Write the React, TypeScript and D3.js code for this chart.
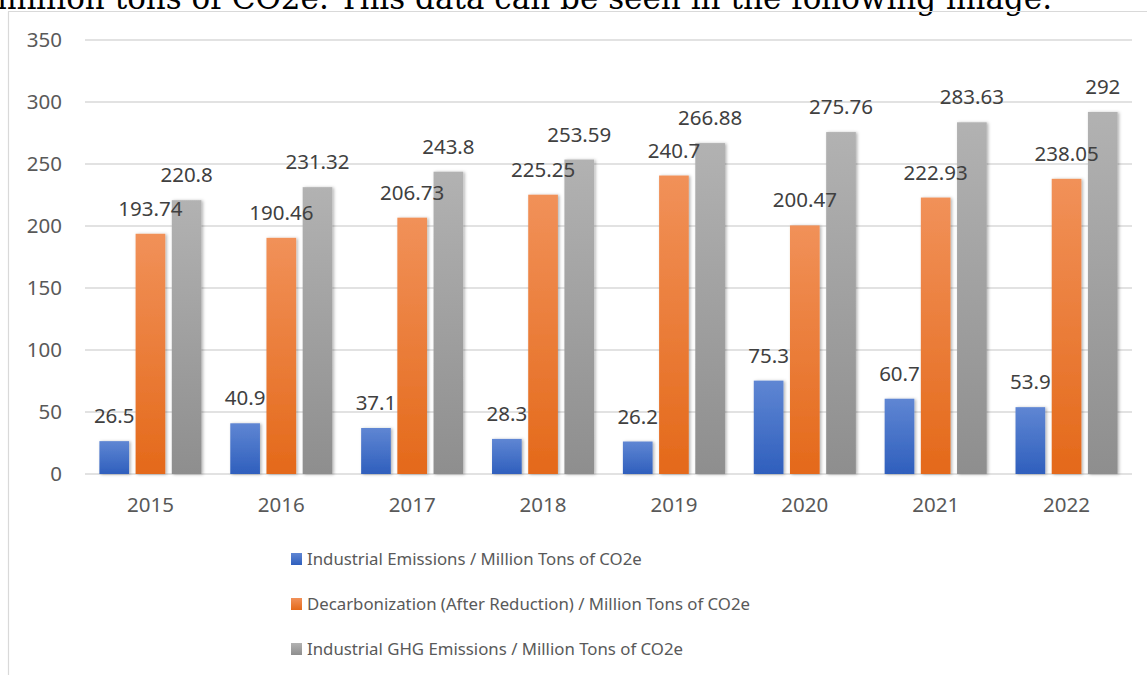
import React from "react";
import * as d3 from "d3";

// chart data
const years = ["2015", "2016", "2017", "2018", "2019", "2020", "2021", "2022"];
const industrialEmissions = [26.5, 40.9, 37.1, 28.3, 26.2, 75.3, 60.7, 53.9];
const decarbonization = [193.74, 190.46, 206.73, 225.25, 240.7, 200.47, 222.93, 238.05];
const ghgEmissions = [220.8, 231.32, 243.8, 253.59, 266.88, 275.76, 283.63, 292];
const yTicks = [0, 50, 100, 150, 200, 250, 300, 350];

const seriesNames = [
  "Industrial Emissions / Million Tons of CO2e",
  "Decarbonization (After Reduction) / Million Tons of CO2e",
  "Industrial GHG Emissions / Million Tons of CO2e",
];
const seriesValues = [industrialEmissions, decarbonization, ghgEmissions];
// gradient stops: [top, bottom]
const seriesColors = [
  ["#5f86d3", "#2f5fbd"],
  ["#f19159", "#e4691a"],
  ["#b2b2b2", "#8e8e8e"],
];

const W = 1147;
const H = 675;
const FONT = "'Noto Sans', 'Open Sans', sans-serif";

const App: React.FC = () => {
  const x0 = d3
    .scaleBand<string>()
    .domain(years)
    .range([85, 1132])
    .paddingInner(0.22)
    .paddingOuter(0.11);

  const x1 = d3
    .scaleBand<number>()
    .domain([0, 1, 2])
    .range([0, x0.bandwidth()])
    .paddingInner(0.18);

  const y = d3.scaleLinear().domain([0, 350]).range([474, 40]);

  return (
    <svg
      width={W}
      height={H}
      style={{ position: "absolute", left: 0, top: 0, background: "#fff" }}
    >
      <defs>
        {seriesColors.map((c, i) => (
          <linearGradient key={i} id={`grad${i}`} x1="0" y1="0" x2="0" y2="1">
            <stop offset="0%" stopColor={c[0]} />
            <stop offset="100%" stopColor={c[1]} />
          </linearGradient>
        ))}
        <filter id="shadow" x="-30%" y="-10%" width="160%" height="120%">
          <feDropShadow dx="1.5" dy="0.5" stdDeviation="1.6" floodColor="#000" floodOpacity="0.3" />
        </filter>
      </defs>

      {/* clipped text from the page above */}
      <text
        x={-3}
        y={9}
        fontFamily="'DejaVu Serif', 'Liberation Serif', serif"
        fontSize={31}
        textLength={1055}
        fill="#000"
      >
        million tons of CO2e. This data can be seen in the following image.
      </text>

      {/* chart frame */}
      <line x1={8.5} x2={8.5} y1={11.5} y2={H} stroke="#d9d9d9" strokeWidth={1.2} />
      <line x1={8} x2={W} y1={11.5} y2={11.5} stroke="#d9d9d9" strokeWidth={1.2} />

      {/* gridlines and y labels */}
      {yTicks.map((t) => (
        <g key={t}>
          <line
            x1={85}
            x2={1132}
            y1={y(t)}
            y2={y(t)}
            stroke="#d9d9d9"
            strokeWidth={1.5}
          />
          <text
            x={62}
            y={y(t)}
            dy="0.35em"
            textAnchor="end"
            fontFamily={FONT}
            fontSize={20.5}
            fill="#595959"
          >
            {t}
          </text>
        </g>
      ))}

      {/* bars */}
      {years.map((yr, j) => (
        <g key={yr} transform={`translate(${x0(yr)},0)`}>
          {seriesValues.map((vals, i) => (
            <rect
              key={i}
              x={x1(i)}
              y={y(vals[j])}
              width={x1.bandwidth()}
              height={y(0) - y(vals[j])}
              fill={`url(#grad${i})`}
              filter="url(#shadow)"
            />
          ))}
        </g>
      ))}

      {/* data labels */}
      {years.map((yr, j) => (
        <g key={yr} transform={`translate(${x0(yr)},0)`}>
          {seriesValues.map((vals, i) => (
            <text
              key={i}
              x={(x1(i) as number) + x1.bandwidth() / 2}
              y={y(vals[j]) - 18}
              textAnchor="middle"
              fontFamily={FONT}
              fontSize={20.5}
              fill="#404040"
            >
              {vals[j]}
            </text>
          ))}
        </g>
      ))}

      {/* x labels */}
      {years.map((yr) => (
        <text
          key={yr}
          x={(x0(yr) as number) + x0.bandwidth() / 2}
          y={512}
          textAnchor="middle"
          fontFamily={FONT}
          fontSize={20.5}
          fill="#595959"
        >
          {yr}
        </text>
      ))}

      {/* legend */}
      {seriesNames.map((name, i) => (
        <g key={name} transform={`translate(291,${559 + i * 45})`}>
          <rect x={0} y={-6} width={11} height={12} fill={`url(#grad${i})`} />
          <text x={16} y={0} dy="0.35em" fontFamily={FONT} fontSize={16.8} fill="#595959">
            {name}
          </text>
        </g>
      ))}
    </svg>
  );
};

export default App;
